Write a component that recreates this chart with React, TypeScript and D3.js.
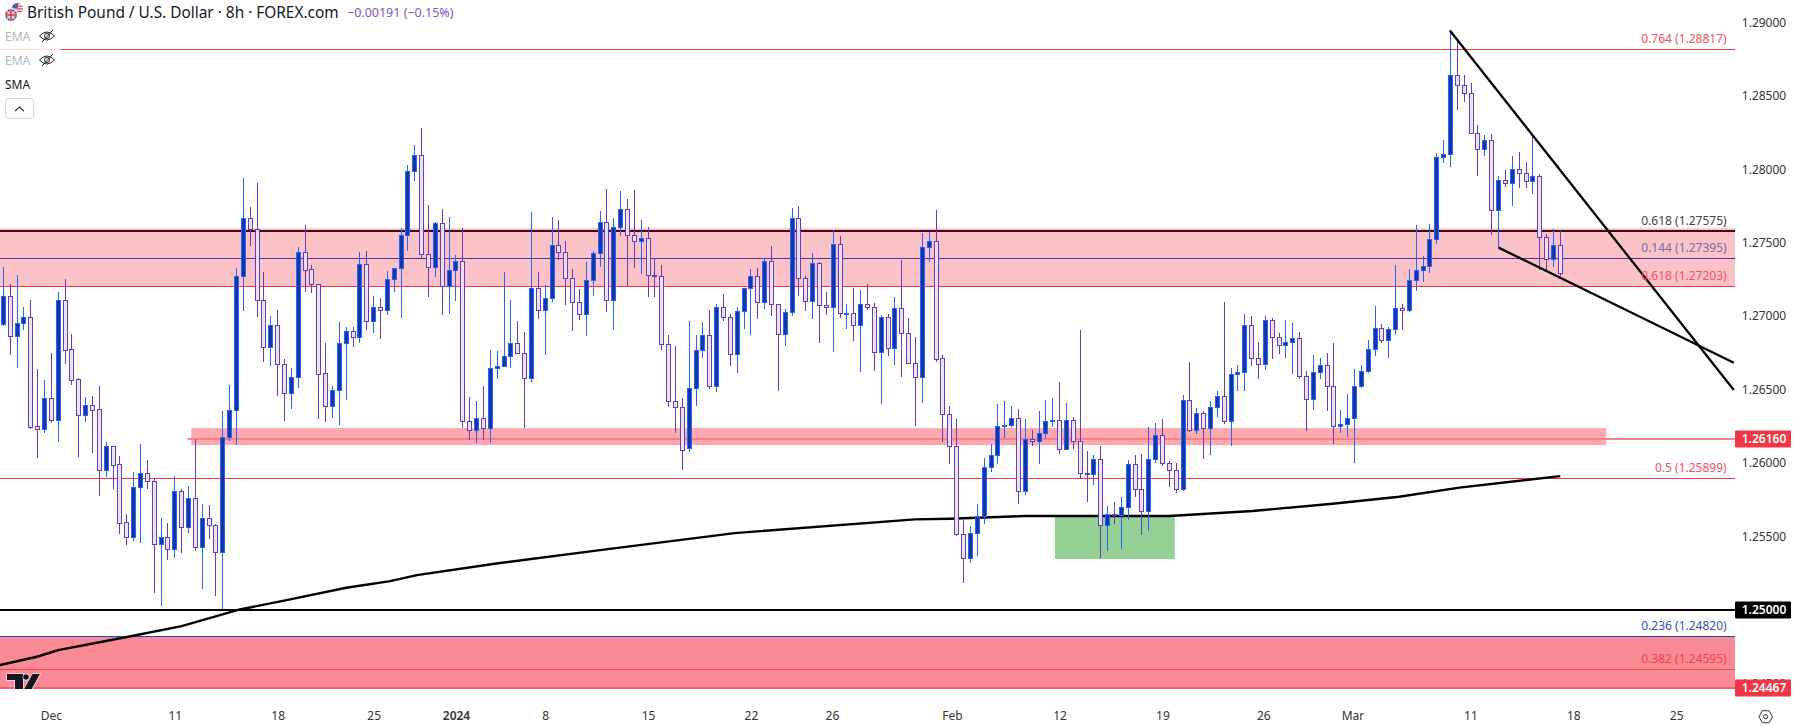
import { useEffect, useRef } from 'react'
import * as d3 from 'd3'

// GBP/USD 8h bars, prices in 1/100000 of a dollar
const opens = [
  126944,127135,126863,126951,126992,126250,126234,126440,126295,127108,126774,126570,126329,126393,126365,125955,126113,125991,125596,125498,
  125834,125930,125875,125451,125494,125417,125807,125562,125759,125430,125623,125575,125396,126175,126359,127271,127666,127591,127108,126788,
  126937,126672,126474,126583,127435,127319,127221,126611,126386,126495,126815,126897,126856,127353,126965,127060,127040,127251,127326,127550,
  127986,128095,127421,127332,127632,127203,127312,127373,126288,126225,126304,126236,126645,126658,126731,126815,126747,126577,127189,127040,
  127121,127482,127435,127257,127094,127016,127243,127427,127638,127107,127604,127727,127550,127509,127529,127277,127271,126808,126419,126379,
  126099,126508,126767,126869,126522,127060,126991,126739,127032,127189,127271,127094,127373,127080,126876,127026,127666,127257,127100,127359,
  127073,127060,127489,127016,127019,126937,127080,127060,126753,126992,126781,127053,126883,126678,126588,127471,127512,126713,126331,126116,
  125519,125351,125521,125637,125970,126052,126250,126256,126304,125807,126166,126147,126202,126284,126290,126093,126290,126147,125932,125923,
  126025,125575,125650,125646,125698,125991,125821,125671,126025,126188,125998,125950,125821,126427,126222,126338,126236,126379,126454,126284,
  126604,126617,126937,126713,126672,126971,126856,126801,126822,126849,126590,126433,126617,126665,126522,126250,126263,126304,126522,126624,
  126774,126917,126835,126910,127053,127040,127244,127312,127339,127523,128084,128102,128640,128572,128517,128245,128136,128197,127721,127925,
  127904,128000,127973,127918,127952,127537,127387,127482,
]
const highs = [
  127337,127219,127280,127062,127110,126640,126563,126749,127162,127253,126878,126579,126449,126456,126524,126143,126113,126048,125653,125939,
  126129,126020,125896,125625,125591,125911,125823,125843,126163,125721,125714,125585,126354,126531,127326,127941,127743,127907,127301,127001,
  127042,126708,126647,127471,127618,127348,127221,126817,126524,126960,126926,126926,127435,127444,127137,127124,127307,127326,127600,128029,
  128163,128281,127757,127641,127730,127675,127416,127600,126449,126422,126524,126769,126763,127301,127110,126967,126892,127709,127301,127212,
  127675,127655,127512,127318,127184,127368,127443,127716,127865,127666,127852,127797,127859,127654,127607,127393,127348,126871,126796,126442,
  126966,126871,126960,127041,127082,127150,127014,127062,127189,127321,127327,127389,127477,127080,127048,127736,127750,127273,127430,127368,
  127164,127586,127545,127082,127189,127178,127219,127089,127008,127014,127130,127382,126987,126858,127566,127573,127723,126735,126388,126300,
  125612,125571,125721,126034,126129,126402,126422,126388,126368,126300,126225,126354,126429,126443,126551,126408,126313,126906,126082,126054,
  126116,125707,125734,125768,126020,126054,126061,126245,126272,126300,126013,126000,126463,126688,126374,126354,126422,126490,127096,126647,
  126667,127015,127001,126824,127001,126987,126885,126974,126953,126892,126626,126735,126715,126749,126817,126361,126470,126640,126667,126837,
  127069,126946,126926,127348,127083,127321,127621,127410,127628,128111,128200,128949,128869,128642,128588,128302,128234,128240,127954,127995,
  128091,128118,128050,128227,127968,127559,127594,127580,
]
const lows = [
  126933,126735,126649,126906,126232,126034,126207,126272,126143,126674,126531,126041,126279,126068,125775,125905,125823,125516,125442,125469,
  125455,125823,125117,125028,125342,125355,125389,125526,125403,125142,125482,125097,125006,126150,126123,127035,127478,126994,126688,126661,
  126456,126286,126368,126511,127167,127160,126302,126281,126306,126259,126429,126790,126817,126906,126885,126844,127010,127164,126987,127444,
  127920,127394,127130,127267,127008,127015,127103,126236,126157,126134,126157,126134,126572,126658,126647,126747,126236,126552,126981,126735,
  127096,127382,127076,126898,126973,126864,127137,127334,127028,126905,127545,127203,127327,127287,127130,127130,126769,126383,126201,125952,
  126077,126388,126715,126503,126483,126966,126660,126612,126912,126871,126980,127048,127001,126490,126796,127001,127137,127035,126980,126817,
  127007,126755,126987,126912,126830,126619,127042,126626,126402,126728,126667,126585,126678,126252,126408,127369,126688,126143,125993,125505,
  125183,125319,125367,125584,125939,125993,126170,126245,125721,125782,126116,125993,126163,126245,126061,126093,126095,125895,125734,125850,
  125353,125401,125584,125414,125612,125768,125510,125537,126000,125979,125836,125796,125809,126213,126197,126027,126054,126313,126265,126116,
  126490,126490,126660,126572,126633,126708,126742,126715,126606,126572,126218,126361,126572,126354,126129,126204,126177,126000,126511,126613,
  126729,126817,126715,126872,126906,127028,127171,127235,127296,127491,128043,128016,128404,128458,128245,127954,128091,127553,127462,127880,
  127750,127873,127873,127832,127314,127307,127335,127273,
]
const closes = [
  127135,126863,126951,126992,126247,126234,126440,126295,127108,126772,126567,126329,126393,126363,125955,126113,125989,125594,125498,125834,
  125930,125875,125451,125494,125417,125807,125562,125759,125430,125623,125575,125396,126175,126359,127271,127666,127591,127108,126788,126937,
  126672,126474,126583,127435,127317,127221,126608,126386,126495,126815,126897,126856,127353,126965,127060,127040,127251,127326,127550,127986,
  128095,127421,127332,127632,127203,127312,127373,126288,126225,126304,126236,126645,126658,126731,126815,126747,126577,127189,127040,127121,
  127482,127435,127258,127094,127016,127243,127427,127638,127107,127604,127727,127550,127509,127529,127277,127275,126808,126419,126379,126088,
  126508,126767,126869,126522,127060,126991,126739,127032,127189,127271,127094,127373,127080,126876,127026,127666,127257,127100,127359,127073,
  127060,127489,127019,127019,126937,127080,127060,126753,126992,126781,127053,126883,126678,126588,127471,127512,126710,126331,126116,125519,
  125351,125521,125637,125970,126052,126250,126256,126304,125807,126166,126147,126202,126284,126290,126093,126290,126147,125929,125927,126025,
  125575,125650,125646,125698,125991,125821,125671,126025,126188,125998,125950,125821,126427,126222,126338,126236,126379,126454,126284,126604,
  126617,126937,126713,126672,126971,126856,126801,126822,126849,126590,126433,126617,126665,126522,126250,126263,126304,126522,126624,126774,
  126917,126835,126910,127053,127040,127244,127312,127339,127523,128084,128102,128640,128572,128517,128245,128136,128197,127721,127925,127904,
  128000,127973,127918,127952,127537,127387,127482,127292,
]

// 200 SMA, read at its bends
const smaBars = [-0.5,4.9,8,18.2,26,34.5,41.3,50,56.4,60.3,72.4,87,106.6,132.9,138,148.9,170,182.1,193.8,203.5,212.3,227]
const smaValues = [124624,124681,124726,124817,124890,125003,125067,125151,125196,125237,125319,125407,125523,125616,125620,125639,125639,125673,125723,125770,125832,125911]

// drawn trendlines: [bar, price]
const fallingLine = [[210.9, 128944], [252.3, 126497]]
const supportLine = [[218, 127466], [252.3, 126683]]

const priceTicks = [1.29, 1.285, 1.28, 1.275, 1.27, 1.265, 1.26, 1.255, 1.245]
const timeTickBars = [6.95, 25, 40, 54, 66, 79, 94, 109, 120.8, 138.3, 154, 169, 183.7, 196.7, 213.9, 228.9, 243.9]
const timeTickLabels = ['Dec', '11', '18', '25', '2024', '8', '15', '22', '26', 'Feb', '12', '19', '26', 'Mar', '11', '18', '25']

const fibLabels = ['0.764 (1.28817)', '0.618 (1.27575)', '0.144 (1.27395)', '0.618 (1.27203)', '0.5 (1.25899)', '0.236 (1.24820)', '0.382 (1.24595)']
const fibPrices = [1.28817, 1.27575, 1.27395, 1.27203, 1.25899, 1.2482, 1.24595]
const fibColors = ['#f2505f', '#444', '#7a6aa5', '#f2505f', '#f2505f', '#2f55b5', '#ee4354']

const FONT = '"Noto Sans", sans-serif'
const UP_EDGE = '#2962ff'
const UP_FILL = '#0e38a8'
const DOWN_EDGE = '#673ab7'
const DOWN_FILL = '#ede8f6'

export default function App() {
  const svgRef = useRef<SVGSVGElement>(null)

  useEffect(() => {
    const svg = d3.select(svgRef.current)
    svg.selectAll('*').remove()

    const W = 1793
    const H = 726
    const plotR = 1735
    const plotB = 689

    const x = d3.scaleLinear().domain([0, 227]).range([3.3, 1560.3])
    const y = d3.scaleLinear().domain([1.25, 1.29]).range([609.9, 22.3])
    const yp = (pts: number) => y(pts / 1e5)

    svg.attr('width', W).attr('height', H)
    svg.append('rect').attr('width', W).attr('height', H).attr('fill', '#fff')

    const defs = svg.append('defs')
    defs.append('clipPath').attr('id', 'plot').append('rect').attr('width', plotR).attr('height', plotB)

    const band = (x0: number, x1: number, top: number, bottom: number, fill: string) =>
      svg.append('rect')
        .attr('x', x0).attr('width', x1 - x0)
        .attr('y', y(top)).attr('height', y(bottom) - y(top))
        .attr('fill', fill)

    const level = (price: number, color: string, width: number, x0 = 0) =>
      svg.append('line')
        .attr('x1', x0).attr('x2', plotR)
        .attr('y1', Math.round(y(price)) + (width === 1 ? 0.5 : 0))
        .attr('y2', Math.round(y(price)) + (width === 1 ? 0.5 : 0))
        .attr('stroke', color).attr('stroke-width', width)

    // Zones
    band(x(153.3), x(170.8), 1.25634, 1.25346, '#95d095')
    band(0, plotR, 1.27598, 1.27203, '#fbc2c8')
    band(x(27.4), x(233.7), 1.26238, 1.26122, '#fcaaae')
    band(0, plotR, 1.2482, 1.24467, '#f98a94')

    // Levels
    level(1.28817, '#f23645', 1)
    level(1.27582, '#3f0a12', 2)
    level(1.27395, '#4a36a0', 1)
    level(1.27203, '#f23645', 1)
    level(1.2616, '#f8808a', 2, x(26.9))
    level(1.25899, '#f23645', 1)
    level(1.25, '#000', 2)
    level(1.2482, '#1848c0', 1)
    level(1.24595, '#e84a5c', 1)
    level(1.24467, '#f0606c', 2)

    // SMA
    const smaLine = d3.line<number>()
      .x((_, i) => x(smaBars[i]))
      .y((d) => yp(d))
    svg.append('path')
      .datum(smaValues)
      .attr('fill', 'none')
      .attr('stroke', '#000')
      .attr('stroke-width', 2.4)
      .attr('d', smaLine)

    // Candles
    const candles = svg.append('g').attr('shape-rendering', 'crispEdges')
    opens.forEach((open, i) => {
      const close = closes[i]
      const up = close >= open
      const edge = up ? UP_EDGE : DOWN_EDGE
      const cx = Math.floor(x(i)) + 0.5
      const top = Math.round(yp(Math.max(open, close))) + 0.5
      const bottom = Math.round(yp(Math.min(open, close))) + 0.5
      candles.append('line')
        .attr('x1', cx).attr('x2', cx)
        .attr('y1', yp(highs[i])).attr('y2', yp(lows[i]))
        .attr('stroke', edge).attr('stroke-width', 1)
      candles.append('rect')
        .attr('x', cx - 2).attr('width', 4)
        .attr('y', top).attr('height', Math.max(bottom - top, 1))
        .attr('fill', up ? UP_FILL : DOWN_FILL)
        .attr('fill-opacity', up ? 1 : 0.92)
        .attr('stroke', edge).attr('stroke-width', 1)
    })

    // Trendlines
    const trend = d3.line<number[]>().x((d) => x(d[0])).y((d) => yp(d[1]))
    const trends = svg.append('g').attr('clip-path', 'url(#plot)')
    ;[fallingLine, supportLine].forEach((pts) => {
      trends.append('path')
        .attr('d', trend(pts))
        .attr('fill', 'none').attr('stroke', '#000').attr('stroke-width', 2.3)
    })

    // Fib labels
    fibLabels.forEach((label, i) => {
      svg.append('text')
        .attr('x', 1726.7)
        .attr('y', y(fibPrices[i]) - 10.5)
        .attr('dy', '0.35em')
        .attr('text-anchor', 'end')
        .attr('fill', fibColors[i])
        .style('font-family', FONT)
        .style('font-size', '12px')
        .text(label)
    })

    // Price axis
    svg.append('g')
      .attr('transform', `translate(${plotR},0)`)
      .call(d3.axisRight(y).tickValues(priceTicks).tickSize(0).tickFormat(d3.format('.5f')))
      .call((axis) => {
        axis.select('.domain').remove()
        axis.selectAll('.tick text')
          .attr('x', 29)
          .attr('text-anchor', 'middle')
          .attr('fill', '#333')
          .style('font-family', FONT)
          .style('font-size', '12px')
      })

    // Price tags
    const tag = (price: number, label: string, fill: string) => {
      const cy = Math.round(y(price))
      svg.append('rect')
        .attr('x', plotR).attr('y', cy - 8.5)
        .attr('width', 56).attr('height', 17)
        .attr('rx', 1)
        .attr('fill', fill)
      svg.append('text')
        .attr('x', 1764).attr('y', cy)
        .attr('dy', '0.36em')
        .attr('text-anchor', 'middle')
        .attr('fill', '#fff')
        .style('font-family', FONT)
        .style('font-size', '12px')
        .style('font-weight', 600)
        .text(label)
    }
    tag(1.2616, '1.26160', '#f23645')
    tag(1.25, '1.25000', '#000')
    tag(1.24467, '1.24467', '#f23645')

    // Time axis
    svg.append('g')
      .attr('transform', 'translate(0,716)')
      .call(
        d3.axisBottom(x)
          .tickValues(timeTickBars)
          .tickSize(0)
          .tickPadding(0)
          .tickFormat((_, i) => timeTickLabels[i])
      )
      .call((axis) => {
        axis.select('.domain').remove()
        axis.selectAll('.tick text')
          .attr('y', 0)
          .attr('dy', '0.35em')
          .attr('fill', '#333')
          .style('font-family', FONT)
          .style('font-size', '12px')
          .style('font-weight', (_, i) => (timeTickLabels[i] === '2024' ? 600 : 400))
      })

    // Settings icon
    svg.append('path')
      .attr('d', 'M1759,716.7 L1762.3,710.7 L1769.1,710.7 L1772.4,716.7 L1769.1,722.7 L1762.3,722.7 Z')
      .attr('fill', 'none').attr('stroke', '#333').attr('stroke-width', 1)
    svg.append('circle').attr('cx', 1765.7).attr('cy', 716.7).attr('r', 2).attr('fill', 'none').attr('stroke', '#333')

    // Watermark logo
    const logo = svg.append('g').attr('clip-path', 'url(#plot)')
      .attr('fill', '#131722').attr('stroke', '#fff').attr('stroke-width', 1.2)
      .style('paint-order', 'stroke')
    logo.append('path').attr('d', 'M7,674 H23 V692 H15 V680 H7 Z')
    logo.append('circle').attr('cx', 26).attr('cy', 677).attr('r', 2.8)
    logo.append('path').attr('d', 'M32.5,674 H40 L30,692 H22.5 Z')

    // Legend
    svg.append('rect').attr('x', 0).attr('y', 44).attr('width', 61).attr('height', 10).attr('fill', '#fff').attr('opacity', 0.8)

    const gb = defs.append('clipPath').attr('id', 'gb')
    gb.append('circle').attr('cx', 11).attr('cy', 15).attr('r', 6)
    const us = defs.append('clipPath').attr('id', 'us')
    us.append('circle').attr('cx', 17.5).attr('cy', 8.5).attr('r', 5.5)

    const usFlag = svg.append('g').attr('clip-path', 'url(#us)')
    usFlag.append('rect').attr('x', 11).attr('y', 2).attr('width', 13).attr('height', 13).attr('fill', '#f4f4f4')
    d3.range(4).forEach((k) => {
      usFlag.append('rect').attr('x', 11).attr('y', 3 + k * 2.6).attr('width', 13).attr('height', 1.3).attr('fill', '#e8505b')
    })
    usFlag.append('rect').attr('x', 11).attr('y', 2).attr('width', 7).attr('height', 6).attr('fill', '#3c6ab0')

    svg.append('circle').attr('cx', 11).attr('cy', 15).attr('r', 7).attr('fill', '#fff')
    const gbFlag = svg.append('g').attr('clip-path', 'url(#gb)')
    gbFlag.append('rect').attr('x', 4).attr('y', 8).attr('width', 14).attr('height', 14).attr('fill', '#2b4a8c')
    gbFlag.append('path').attr('d', 'M5,9 L17,21 M17,9 L5,21').attr('stroke', '#f4d0d4').attr('stroke-width', 1.6)
    gbFlag.append('path').attr('d', 'M11,8 V22 M4,15 H18').attr('stroke', '#f4f4f4').attr('stroke-width', 3)
    gbFlag.append('path').attr('d', 'M11,8 V22 M4,15 H18').attr('stroke', '#d9323f').attr('stroke-width', 1.6)

    const legendText = (tx: number, ty: number, label: string, color: string, size: number) =>
      svg.append('text')
        .attr('x', tx).attr('y', ty)
        .attr('dy', '0.35em')
        .attr('fill', color)
        .style('font-family', FONT)
        .style('font-size', `${size}px`)
        .text(label)

    legendText(27, 12.5, 'British Pound / U.S. Dollar · 8h · FOREX.com', '#131722', 15.4)
    legendText(347, 12.5, '\u22120.00191 (\u22120.15%)', '#7e57c2', 12.5)
    legendText(5, 36.5, 'EMA', '#b2b5be', 12)
    legendText(5, 60.5, 'EMA', '#b2b5be', 12)
    legendText(5, 85, 'SMA', '#131722', 12)

    ;[36, 60].forEach((cy) => {
      const eye = svg.append('g').attr('transform', `translate(47,${cy})`)
        .attr('fill', 'none').attr('stroke', '#222').attr('stroke-width', 1)
      eye.append('path').attr('d', 'M-7.5,0 Q0,-8 7.5,0 Q0,8 -7.5,0 Z')
      eye.append('circle').attr('r', 2.5)
      eye.append('path').attr('d', 'M-5,6 L6,-6')
    })

    svg.append('rect')
      .attr('x', 5.5).attr('y', 98.5).attr('width', 28).attr('height', 20).attr('rx', 3)
      .attr('fill', '#fff').attr('stroke', '#d1d4dc')
    svg.append('path')
      .attr('d', 'M15,111 L19.5,107 L24,111')
      .attr('fill', 'none').attr('stroke', '#333').attr('stroke-width', 1.2)
  }, [])

  return <svg ref={svgRef} style={{ position: 'fixed', left: 0, top: 0 }} />
}
